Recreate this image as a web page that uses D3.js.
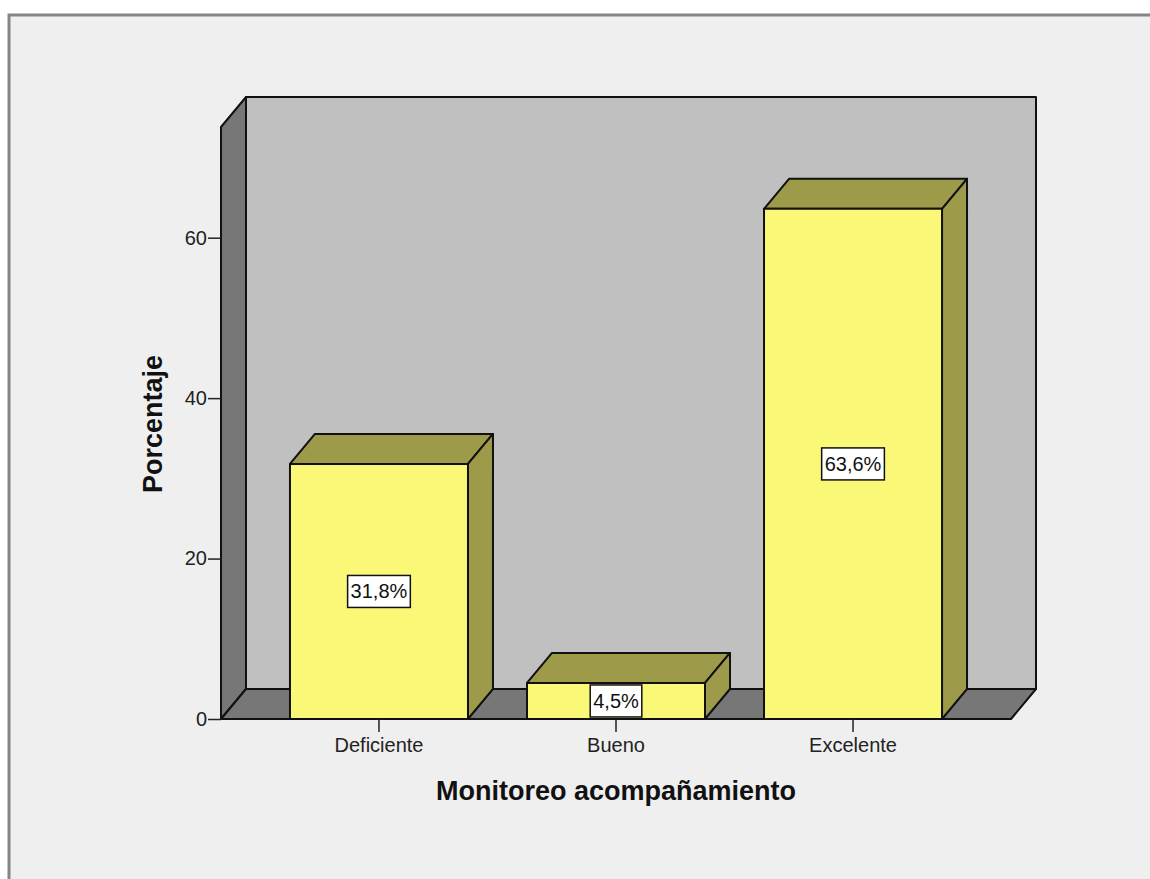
<!DOCTYPE html>
<html>
<head>
<meta charset="utf-8">
<script src="https://cdn.jsdelivr.net/npm/d3@7"></script>
<style>
  body { margin: 0; background: #ffffff; }
  svg { display: block; font-family: "Liberation Sans", Arial, sans-serif; }
</style>
</head>
<body>
<svg id="chart" width="1150" height="879"></svg>
<script>
var categories = ["Deficiente", "Bueno", "Excelente"];
var percentages = [31.8, 4.5, 63.6];
var barLabels = ["31,8%", "4,5%", "63,6%"];
var yTicks = [0, 20, 40, 60];

var svg = d3.select("#chart");

// outer frame
svg.append("rect")
    .attr("x", 9).attr("y", 15)
    .attr("width", 1160).attr("height", 900)
    .attr("fill", "#efefef")
    .attr("stroke", "#858585")
    .attr("stroke-width", 3);

// plot box (front face) + depth offset
var pLeft = 221, pRight = 1011, pBottom = 719, pTop = 127;
var dx = 25, dy = -30;

var y = d3.scaleLinear().domain([0, 73.8]).range([pBottom, pTop]);
var x = d3.scaleBand().domain(categories).range([pLeft, pRight])
    .paddingInner(0.249).paddingOuter(0.291);

function poly(pts) { return "M" + pts.map(function (p) { return p.join(","); }).join("L") + "Z"; }

var g = svg.append("g").attr("stroke", "#111").attr("stroke-width", 2).attr("stroke-linejoin", "round");

// back wall
g.append("path").attr("fill", "#c0c0c0")
    .attr("d", poly([[pLeft + dx, pBottom + dy], [pLeft + dx, pTop + dy], [pRight + dx, pTop + dy], [pRight + dx, pBottom + dy]]));
// left wall
g.append("path").attr("fill", "#777777")
    .attr("d", poly([[pLeft, pBottom], [pLeft, pTop], [pLeft + dx, pTop + dy], [pLeft + dx, pBottom + dy]]));
// floor
g.append("path").attr("fill", "#777777")
    .attr("d", poly([[pLeft, pBottom], [pRight, pBottom], [pRight + dx, pBottom + dy], [pLeft + dx, pBottom + dy]]));

// bars
var bars = g.selectAll(".bar").data(percentages).enter().append("g").attr("class", "bar");

bars.append("path").attr("fill", "#9d9a4a")
    .attr("d", function (d, i) {
        var x0 = x(categories[i]), x1 = x0 + x.bandwidth(), yt = y(d);
        return poly([[x0, yt], [x0 + dx, yt + dy], [x1 + dx, yt + dy], [x1, yt]]);
    });
bars.append("path").attr("fill", "#9d9a4a")
    .attr("d", function (d, i) {
        var x1 = x(categories[i]) + x.bandwidth(), yt = y(d);
        return poly([[x1, yt], [x1 + dx, yt + dy], [x1 + dx, pBottom + dy], [x1, pBottom]]);
    });
bars.append("rect").attr("fill", "#fbf777")
    .attr("x", function (d, i) { return x(categories[i]); })
    .attr("y", function (d) { return y(d); })
    .attr("width", x.bandwidth())
    .attr("height", function (d) { return pBottom - y(d); });

// value labels
percentages.forEach(function (d, i) {
    var cx = x(categories[i]) + x.bandwidth() / 2;
    var cy = (y(d) + pBottom) / 2;
    var lg = svg.append("g");
    var t = lg.append("text")
        .attr("x", cx).attr("y", cy + 7)
        .attr("text-anchor", "middle")
        .attr("font-size", 20)
        .attr("fill", "#111")
        .text(barLabels[i]);
    var w = t.node().getComputedTextLength() + 6;
    lg.insert("rect", "text")
        .attr("x", cx - w / 2).attr("y", cy - 16)
        .attr("width", w).attr("height", 32)
        .attr("fill", "#ffffff")
        .attr("stroke", "#111").attr("stroke-width", 1.5);
});

// y axis
var yAxis = svg.append("g")
    .attr("transform", "translate(" + pLeft + ",0)")
    .call(d3.axisLeft(y).tickValues(yTicks).tickSize(13).tickPadding(1));
yAxis.select(".domain").remove();
yAxis.selectAll("line").attr("stroke", "#222").attr("stroke-width", 1.5);
yAxis.selectAll("text").attr("font-size", 20).attr("fill", "#222")
    .attr("font-family", "Liberation Sans, Arial, sans-serif");

// x axis
var xAxis = svg.append("g")
    .attr("transform", "translate(0," + pBottom + ")")
    .call(d3.axisBottom(x).tickSize(13).tickPadding(6));
xAxis.select(".domain").remove();
xAxis.selectAll("line").attr("stroke", "#222").attr("stroke-width", 1.5);
xAxis.selectAll("text").attr("font-size", 20).attr("fill", "#222")
    .attr("font-family", "Liberation Sans, Arial, sans-serif");

// titles
svg.append("text")
    .attr("x", 616).attr("y", 800)
    .attr("text-anchor", "middle")
    .attr("font-size", 27).attr("font-weight", "bold").attr("fill", "#111")
    .text("Monitoreo acompañamiento");

svg.append("text")
    .attr("transform", "translate(162,424) rotate(-90)")
    .attr("text-anchor", "middle")
    .attr("font-size", 27).attr("font-weight", "bold").attr("fill", "#111")
    .text("Porcentaje");
</script>
</body>
</html>
